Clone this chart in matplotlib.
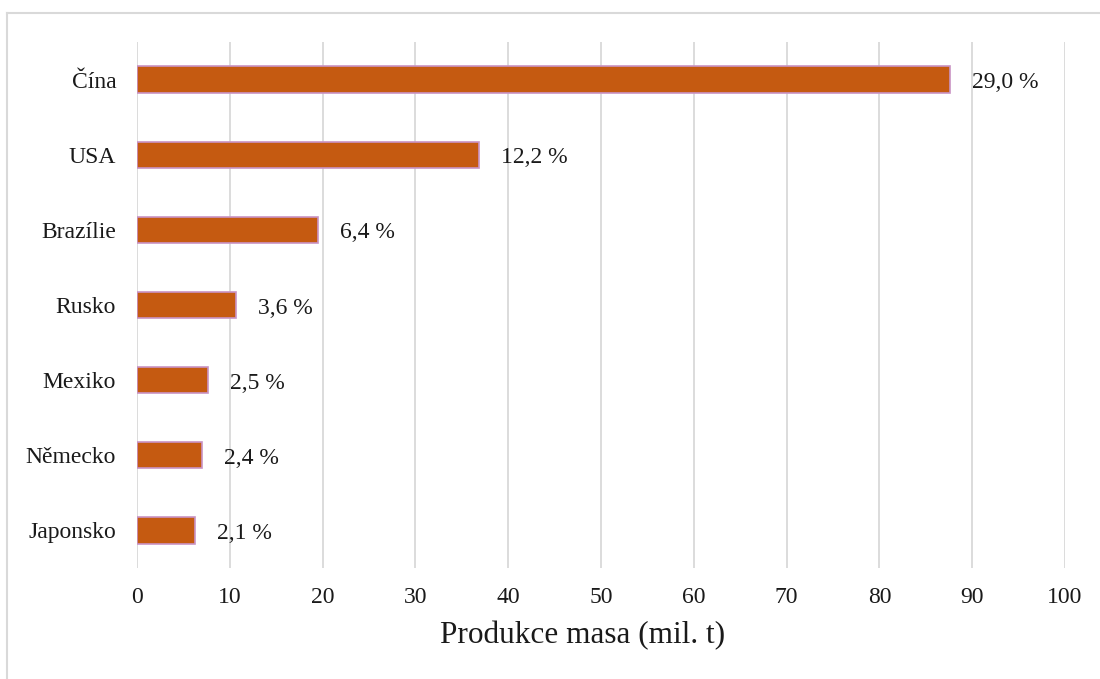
import matplotlib
matplotlib.use("Agg")
import matplotlib.pyplot as plt
from matplotlib.lines import Line2D

countries = ["Čína", "USA", "Brazílie", "Rusko", "Mexiko", "Německo", "Japonsko"]
production = [87.6, 36.9, 19.5, 10.7, 7.6, 7.0, 6.3]
shares = ["29,0 %", "12,2 %", "6,4 %", "3,6 %", "2,5 %", "2,4 %", "2,1 %"]
xticks = [0, 10, 20, 30, 40, 50, 60, 70, 80, 90, 100]

plt.rcParams["font.family"] = ["Liberation Serif", "DejaVu Serif"]

W, H = 1100, 679
fig = plt.figure(figsize=(W / 100, H / 100), dpi=100)
ax = fig.add_axes([137 / W, 1 - 568 / H, (1065 - 137) / W, (568 - 42) / H])

ypos = list(range(len(countries)))
ax.barh(ypos, production, height=0.35, color="#C55A11",
        edgecolor="#C993C4", linewidth=1.2, zorder=3)

for y, v, s in zip(ypos, production, shares):
    ax.annotate(s, xy=(v, y), xytext=(22, -3), textcoords="offset pixels",
                ha="left", va="center", fontsize=17, color="#1a1a1a")

ax.set_xlim(0, 100)
ax.set_ylim(len(countries) - 0.5, -0.5)
ax.set_yticks(ypos)
ax.set_yticklabels(countries, fontsize=17, color="#1a1a1a")
ax.set_xticks(xticks)
ax.set_xticklabels([str(t) for t in xticks], fontsize=17, color="#1a1a1a")
ax.tick_params(axis="both", length=0)
ax.tick_params(axis="y", pad=15)
ax.tick_params(axis="x", pad=14)
ax.xaxis.grid(True, color="#D9D9D9", linewidth=1.3, zorder=0)
for sp in ax.spines.values():
    sp.set_visible(False)

ax.set_xlabel("Produkce masa (mil. t)", fontsize=22.5, color="#1a1a1a", labelpad=11)
ax.xaxis.set_label_coords((583 - 137) / (1065 - 137), -0.1, transform=ax.transAxes)
ax.xaxis.label.set_va("top")

# outer frame (top and left edges)
fig.add_artist(Line2D([7 / W, 1.0], [1 - 13 / H, 1 - 13 / H],
                      color="#D9D9D9", linewidth=1.5, transform=fig.transFigure))
fig.add_artist(Line2D([7 / W, 7 / W], [0.0, 1 - 13 / H],
                      color="#D9D9D9", linewidth=1.5, transform=fig.transFigure))

fig.savefig("out.png", dpi=100)
